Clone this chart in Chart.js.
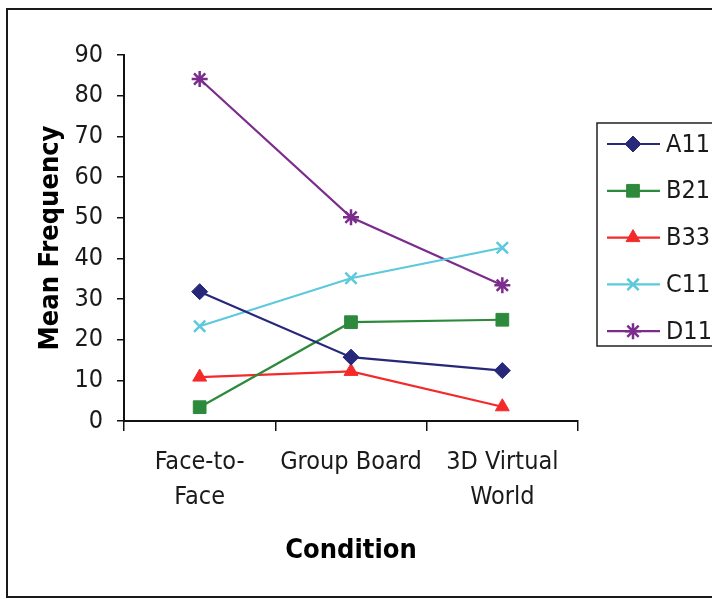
<!DOCTYPE html>
<html>
<head>
<meta charset="utf-8">
<script src="https://cdn.jsdelivr.net/npm/chart.js@4"></script>
<style>
  body { margin: 0; background: #fff; }
  #frame { position: absolute; left: 6px; top: 8px; width: 800px; height: 590px; border: 2px solid #1a1a1a; box-sizing: border-box; }
  #wrap { position: absolute; left: 0; top: 0; width: 712px; height: 599px; }
</style>
</head>
<body>
<div id="frame"></div>
<div id="wrap"><canvas id="myChart" width="712" height="599"></canvas></div>
<script>
// categories and values
const conditions = [["Face-to-", "Face"], "Group Board", ["3D Virtual", "World"]];
const seriesNames = ["A11", "B21", "B33", "C11", "D11"];
const a11 = [31.8, 15.7, 12.4];
const b21 = [3.4, 24.3, 24.9];
const b33 = [10.8, 12.2, 3.5];
const c11 = [23.3, 35.1, 42.6];
const d11 = [84.1, 50.1, 33.4];
const yTicks = [0, 10, 20, 30, 40, 50, 60, 70, 80, 90];

const fontFam = "'Liberation Sans Narrow', 'Arial Narrow', 'DejaVu Sans Condensed', sans-serif";

const colors = ["#27287a", "#2d8a3c", "#f42a2a", "#5cc9dc", "#7b2c8c"];
const markers = ["rectRot", "rect", "triangle", "crossRot", "star"];
const radii = [8, 9, 8, 8, 8];
const allValues = [a11, b21, b33, c11, d11];

const datasets = seriesNames.map(function (name, i) {
    return {
        label: name,
        data: allValues[i],
        borderColor: colors[i],
        backgroundColor: colors[i],
        borderWidth: 2.2,
        pointStyle: markers[i],
        pointRadius: radii[i],
        pointHoverRadius: radii[i],
        pointBorderWidth: (markers[i] === "crossRot" || markers[i] === "star") ? 2.5 : 1,
        tension: 0
    };
});

// legend drawn in a box at the right, like the original
const boxLegend = {
    id: "boxLegend",
    afterDraw(chart) {
        const ctx = chart.ctx;
        ctx.save();
        ctx.strokeStyle = "#222";
        ctx.lineWidth = 1.5;
        ctx.strokeRect(597, 123, 140, 223);
        ctx.font = "25px " + fontFam;
        ctx.textBaseline = "middle";
        ctx.textAlign = "left";
        chart.data.datasets.forEach(function (ds, i) {
            const y = 144 + i * 46.8;
            ctx.strokeStyle = ds.borderColor;
            ctx.fillStyle = ds.backgroundColor;
            ctx.lineWidth = 2.2;
            ctx.beginPath();
            ctx.moveTo(607, y);
            ctx.lineTo(660, y);
            ctx.stroke();
            ctx.lineWidth = ds.pointBorderWidth;
            Chart.helpers.drawPoint(ctx, {
                pointStyle: ds.pointStyle,
                radius: ds.pointRadius,
                rotation: 0,
                borderWidth: ds.pointBorderWidth
            }, 633, y);
            ctx.fillStyle = "#1a1a1a";
            ctx.fillText(ds.label, 666, y + 1);
        });
        ctx.restore();
    }
};

new Chart(document.getElementById("myChart"), {
    type: "line",
    data: { labels: conditions, datasets: datasets },
    options: {
        responsive: false,
        animation: false,
        layout: { padding: { top: 55, right: 134, bottom: 0, left: 0 } },
        plugins: { legend: { display: false }, tooltip: { enabled: false } },
        scales: {
            x: {
                offset: true,
                grid: { display: true, drawOnChartArea: false, offset: true, tickLength: 10, color: "#111", lineWidth: 1.5 },
                border: { display: true, color: "#111", width: 2 },
                ticks: { color: "#1a1a1a", padding: 14, maxRotation: 0, autoSkip: false,
                         font: { family: fontFam, size: 25, lineHeight: 1.4 } },
                title: { display: true, text: "Condition", color: "#000",
                         font: { family: fontFam, size: 27, weight: "bold" },
                         padding: { top: 0, bottom: 32 } },
                afterFit(scale) { scale.height = 178; }
            },
            y: {
                min: 0,
                max: 90,
                afterBuildTicks(scale) { scale.ticks = yTicks.map(v => ({ value: v })); },
                grid: { display: true, drawOnChartArea: false, tickLength: 7, color: "#111", lineWidth: 1.5 },
                border: { display: true, color: "#111", width: 2 },
                ticks: { color: "#1a1a1a", padding: 14,
                         font: { family: fontFam, size: 25 } },
                title: { display: true, text: "Mean Frequency", color: "#000",
                         font: { family: fontFam, size: 27, weight: "bold" },
                         padding: { top: 35, bottom: 0 } },
                afterFit(scale) { scale.width = 124; }
            }
        }
    },
    plugins: [boxLegend]
});
</script>
</body>
</html>
